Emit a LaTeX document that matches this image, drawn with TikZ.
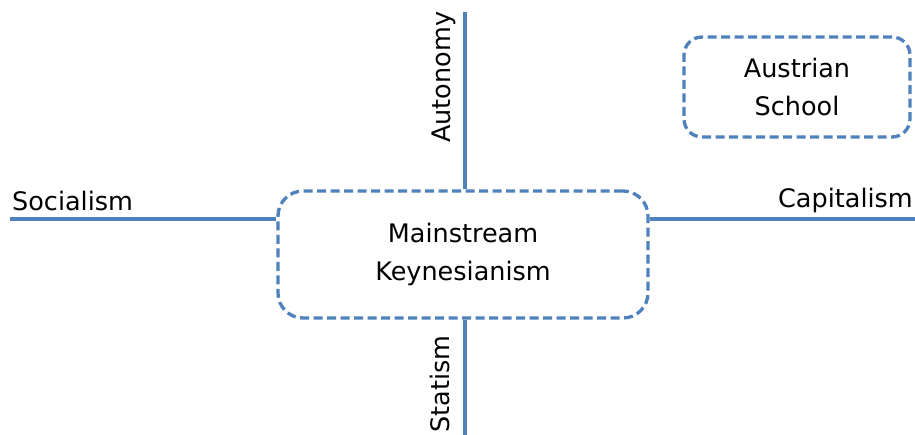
\documentclass[tikz,border=0pt]{standalone}
\usepackage{fontspec}
\setmainfont{DejaVu Sans}

\begin{document}
\begin{tikzpicture}[x=1pt, y=-1pt,
        axisline/.style={draw=axisblue, line width=4.5pt},
        schoolbox/.style={draw=axisblue, line width=3.3pt, dash pattern=on 9pt off 4.5pt,
            fill=white, align=center, font=\fontsize{25.5}{38}\selectfont, inner sep=0pt},
        axislabel/.style={inner sep=0pt, font=\fontsize{25.5}{30}\selectfont}]
        \definecolor{axisblue}{HTML}{4F81BD}
        \useasboundingbox (0,0) rectangle (915,434);

        \node[schoolbox, rounded corners=25pt, minimum width=370pt, minimum height=127pt]
            (mk) at (463,254.5) {Mainstream\\Keynesianism};
        \node[schoolbox, rounded corners=18pt, minimum width=226pt, minimum height=100pt]
            (austrian) at (797,87) {Austrian\\School};

        \coordinate (top) at (465,12);
        \coordinate (bottom) at (465,440);
        \coordinate (left) at (10,219);
        \coordinate (right) at (920,219);

        \draw[axisline] (top) -- (top |- mk.north);
        \draw[axisline] (bottom |- mk.south) -- (bottom);
        \draw[axisline] (left) -- (left -| mk.west);
        \draw[axisline] (right -| mk.east) -- (right);

        \node[axislabel, anchor=base west] (socialism) at (12,210) {Socialism};
        \node[axislabel, anchor=base east] (capitalism) at (913,207) {Capitalism};
        \node[axislabel, anchor=base west, rotate=90] (autonomy) at (450,143) {Autonomy};
        \node[axislabel, anchor=base west, rotate=90] (statism) at (449,433) {Statism};
\end{tikzpicture}
\end{document}
